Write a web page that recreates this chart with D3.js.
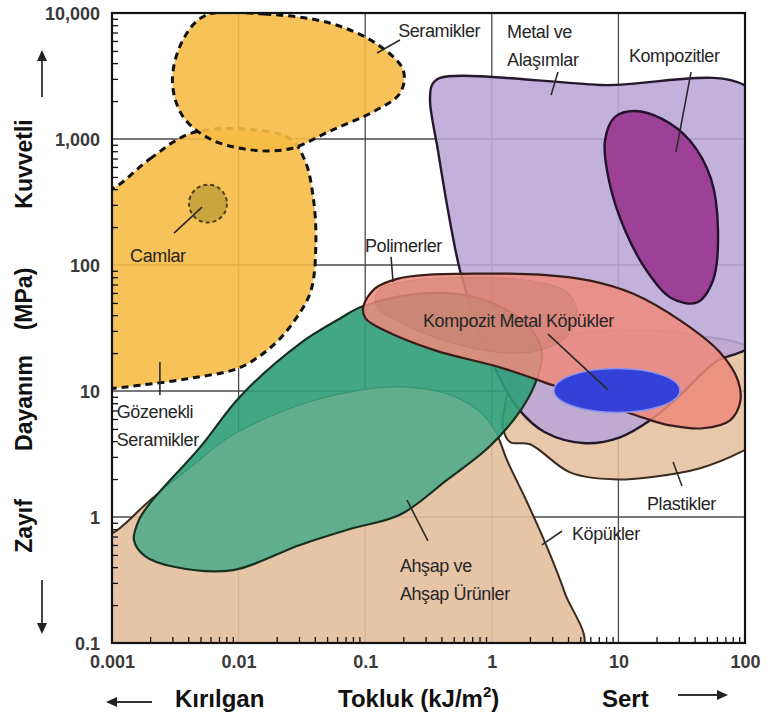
<!DOCTYPE html>
<html><head><meta charset="utf-8">
<script src="https://cdn.jsdelivr.net/npm/d3@7"></script>
<style>
html,body{margin:0;padding:0;background:#fff;}
svg{display:block;font-family:"Liberation Sans",Arial,sans-serif;}
</style></head><body>
<svg id="chart" width="767" height="718"></svg>
<script>
// Axis ticks
const toughnessTicks = [0.001, 0.01, 0.1, 1, 10, 100];
const toughnessTickLabels = ["0.001", "0.01", "0.1", "1", "10", "100"];
const strengthTicks = [0.1, 1, 10, 100, 1000, 10000];
const strengthTickLabels = ["0.1", "1", "10", "100", "1,000", "10,000"];

// Material family outlines: [toughness kJ/m², strength MPa]
const ceramics = [[0.0054, 9500], [0.016, 9800], [0.053, 8300], [0.126, 5600], [0.2, 3500], [0.188, 2300], [0.119, 1670], [0.053, 1160], [0.0255, 836], [0.0123, 821], [0.0059, 1005], [0.0036, 1530], [0.003, 2890], [0.0036, 6000]];
const porousCeramics = [[0.001, 403], [0.002, 697], [0.0041, 1100], [0.0103, 1205], [0.0255, 1005], [0.0335, 671], [0.0387, 355], [0.0408, 156], [0.0373, 62.7], [0.0284, 37.6], [0.0194, 23.8], [0.0103, 15.4], [0.0041, 12.6], [0.00166, 11.1], [0.001, 10.5], [0.0008, 10.5], [0.0008, 403]];
const metalsAlloys = [[0.39, 3055], [7.16, 2685], [120, 2323], [120, 25.2], [57.9, 16.9], [30.6, 9.23], [17.8, 5.85], [10.3, 4.29], [5.45, 3.85], [2.63, 4.70], [1.61, 7.28], [1.10, 14.0], [0.75, 35.0], [0.561, 90.4], [0.451, 270], [0.376, 805], [0.325, 2010], [0.337, 2685]];
const composites = [[13.5, 1670], [22.1, 1445], [36.8, 968], [53.8, 484], [61.2, 188], [55.8, 75.2], [41.8, 50.4], [26.5, 54.2], [17.1, 87.1], [11.3, 188], [8.43, 467], [7.83, 968], [9.40, 1500]];
const polymers = [[0.0962, 45.9], [0.119, 65.0], [0.182, 78.0], [0.325, 83.9], [0.807, 85.5], [2.40, 83.9], [5.97, 75.2], [13.0, 59.3], [32.4, 35.0], [63.5, 20.2], [88.1, 12.1], [91.5, 8.13], [76.2, 5.85], [46.6, 5.06], [25.6, 5.33], [16.2, 6.07], [7.16, 8.13], [3.04, 11.1], [1.16, 15.4], [0.356, 21.0], [0.143, 30.2], [0.101, 37.6]];
const polymersCore = [[0.126, 62.7], [0.226, 75.2], [0.673, 79.4], [2.00, 75.2], [4.00, 60.4], [4.71, 42.0], [4.00, 27.6], [2.40, 21.0], [1.16, 20.2], [0.468, 24.3], [0.188, 35.0], [0.122, 47.6]];
const plastics = [[1.27, 7.69], [1.45, 13.3], [2.00, 20.2], [3.46, 26.6], [10.3, 30.2], [36.8, 28.1], [131, 19.1], [131, 4.06], [94.6, 3.32], [44.2, 2.44], [17.8, 2.07], [9.06, 1.99], [4.15, 2.26], [2.00, 3.78], [1.39, 3.94], [1.22, 5.24]];
const foams = [[0.000804, 0.745], [0.001, 0.745], [0.002, 1.36], [0.00413, 2.44], [0.00904, 4.45], [0.0305, 7.69], [0.0759, 9.75], [0.188, 10.7], [0.468, 9.23], [0.807, 6.76], [1.10, 4.45], [1.32, 2.82], [1.90, 1.31], [2.73, 0.577], [3.78, 0.249], [5.15, 0.088], [0.000804, 0.088]];
const wood = [[0.00149, 0.656], [0.00163, 0.944], [0.002, 1.29], [0.00495, 3.57], [0.0103, 9.06], [0.0305, 23.8], [0.0632, 37.6], [0.0945, 46.8], [0.271, 59.3], [0.807, 54.2], [1.93, 33.1], [2.49, 20.2], [2.28, 12.6], [1.73, 7.28], [0.968, 3.66], [0.443, 1.97], [0.188, 1.04], [0.0759, 0.803], [0.0305, 0.600], [0.00904, 0.379], [0.00315, 0.401], [0.00182, 0.490]];
// Elliptical families: [toughness min, toughness max, strength min, strength max]
const glasses = [0.00406, 0.00809, 217, 434];
const compositeMetalFoams = [3.1, 30.6, 6.76, 15.1];

// Labels: text lines, anchor [toughness, strength], leader from/to
const labelText = [["Seramikler"], ["Metal ve", "Alaşımlar"], ["Kompozitler"], ["Polimerler"], ["Kompozit Metal Köpükler"], ["Camlar"], ["Gözenekli", "Seramikler"], ["Plastikler"], ["Köpükler"], ["Ahşap ve", "Ahşap Ürünler"]];
const labelAnchor = [[0.182, 6450], [1.32, 6340], [12.1, 4080], [0.0995, 127], [0.286, 32.2], [0.00139, 106], [0.00109, 6.11], [16.8, 1.14], [4.30, 0.656], [0.188, 0.366]];
const leaderFrom = [[0.188, 6110], [3.33, 3400], [37.5, 3400], [0.160, 116], [2.78, 28.3], [0.00309, 179], [0.00239, 17.0], [27.0, 2.73], [3.59, 0.774], [0.214, 1.36]];
const leaderTo = [[0.124, 4820], [2.94, 2230], [28.5, 789], [0.166, 73.3], [8.28, 10.2], [0.00514, 288], [0.00239, 9.29], [31.8, 1.76], [2.49, 0.600], [0.313, 0.646]];

const svg = d3.select("#chart");
const M = {left: 112, right: 745, top: 13, bottom: 643};
const x = d3.scaleLog().domain([0.001, 100]).range([M.left, M.right]);
const y = d3.scaleLog().domain([0.1, 10000]).range([M.bottom, M.top]);
const outline = d3.line().x(d => x(d[0])).y(d => y(d[1])).curve(d3.curveCatmullRomClosed.alpha(0.5));

const defs = svg.append("defs");
defs.append("clipPath").attr("id", "plotClip").append("rect")
  .attr("x", M.left).attr("y", M.top).attr("width", M.right - M.left).attr("height", M.bottom - M.top);
defs.append("clipPath").attr("id", "foamClip").append("path").attr("d", outline(foams));

// grid
const grid = svg.append("g").attr("stroke", "#4a4a4a").attr("stroke-width", 1.3);
grid.selectAll("line.v").data(toughnessTicks.slice(1, -1)).join("line")
  .attr("x1", d => x(d)).attr("x2", d => x(d)).attr("y1", M.top).attr("y2", M.bottom);
grid.selectAll("line.h").data(strengthTicks.slice(1, -1)).join("line")
  .attr("y1", d => y(d)).attr("y2", d => y(d)).attr("x1", M.left).attr("x2", M.right);

const plot = svg.append("g").attr("clip-path", "url(#plotClip)");
function region(pts, fill, op, stroke, sw, dash) {
  const p = plot.append("path").attr("d", outline(pts))
    .attr("fill", fill).attr("fill-opacity", op)
    .attr("stroke", stroke).attr("stroke-width", sw).attr("stroke-linejoin", "round");
  if (dash) p.attr("stroke-dasharray", dash);
  return p;
}
function ellipse(b, fill, stroke, sw, dash) {
  const e = plot.append("ellipse")
    .attr("cx", (x(b[0]) + x(b[1])) / 2).attr("cy", (y(b[2]) + y(b[3])) / 2)
    .attr("rx", (x(b[1]) - x(b[0])) / 2).attr("ry", (y(b[2]) - y(b[3])) / 2)
    .attr("fill", fill).attr("stroke", stroke).attr("stroke-width", sw);
  if (dash) e.attr("stroke-dasharray", dash);
  return e;
}

region(foams, "#E3BE9C", 0.9, "#3b2a1e", 2);
region(plastics, "#E3BE9C", 0.85, "#3b2a1e", 2);
region(metalsAlloys, "#B9A6D6", 0.88, "#24182c", 2.4);
region(composites, "#9A3B92", 0.95, "#24122a", 2.4);
// wood and wood products
region(wood, "#2F9D79", 0.9, "none", 0);
plot.append("g").attr("clip-path", "url(#foamClip)").append("path")
  .attr("d", outline(wood)).attr("fill", "#63AF8F").attr("fill-opacity", 0.95);
region(wood, "none", 1, "#17301f", 2.2);
region(polymers, "#EE8A7C", 0.86, "#3a1c18", 2.2);
region(polymersCore, "#B86F62", 0.28, "#8a5a50", 1, null).attr("stroke-opacity", 0.18);
ellipse(compositeMetalFoams, "#3441D8", "#8f93ec", 1.5);
region(porousCeramics, "#F6BB45", 0.9, "#111", 3, "7,5");
region(ceramics, "#F6BB45", 0.9, "#111", 3, "7,5");
ellipse(glasses, "#C9A53D", "#4f3f18", 2, "4,3");

// frame
svg.append("rect").attr("x", M.left).attr("y", M.top)
  .attr("width", M.right - M.left).attr("height", M.bottom - M.top)
  .attr("fill", "none").attr("stroke", "#111").attr("stroke-width", 2.2);

// minor ticks inside the frame
const minorX = x.ticks().filter(d => !toughnessTicks.some(t => Math.abs(t - d) / t < 1e-6));
const minorY = y.ticks().filter(d => !strengthTicks.some(t => Math.abs(t - d) / t < 1e-6));
const bx = svg.append("g").attr("transform", `translate(0,${M.bottom})`)
  .call(d3.axisBottom(x).tickValues(minorX).tickSize(-6).tickFormat(""));
const ly = svg.append("g").attr("transform", `translate(${M.left},0)`)
  .call(d3.axisLeft(y).tickValues(minorY).tickSize(-6).tickFormat(""));
[bx, ly].forEach(g => { g.select(".domain").remove(); g.selectAll("line").attr("stroke", "#111").attr("stroke-width", 1.3); });

// tick labels
const xl = svg.append("g").attr("transform", `translate(0,${M.bottom})`)
  .call(d3.axisBottom(x).tickValues(toughnessTicks).tickSize(0).tickPadding(12)
    .tickFormat((d, i) => toughnessTickLabels[i]));
const yl = svg.append("g").attr("transform", `translate(${M.left},0)`)
  .call(d3.axisLeft(y).tickValues(strengthTicks).tickSize(0).tickPadding(12)
    .tickFormat((d, i) => strengthTickLabels[i]));
[xl, yl].forEach(g => {
  g.select(".domain").remove();
  g.selectAll("text").attr("font-family", "Liberation Sans, Arial, sans-serif")
    .attr("font-size", 18).attr("font-weight", "bold").attr("fill", "#3a3a3a");
});
yl.selectAll("text").attr("dy", "0.38em");

// leaders and labels
const ann = svg.append("g");
ann.selectAll("line").data(leaderFrom).join("line")
  .attr("x1", d => x(d[0])).attr("y1", d => y(d[1]))
  .attr("x2", (d, i) => x(leaderTo[i][0])).attr("y2", (d, i) => y(leaderTo[i][1]))
  .attr("stroke", "#2a2a2a").attr("stroke-width", 1.6);
ann.selectAll("text").data(labelText).join("text")
  .attr("x", (d, i) => x(labelAnchor[i][0])).attr("y", (d, i) => y(labelAnchor[i][1]))
  .attr("font-size", 18).attr("letter-spacing", "-0.4px").attr("fill", "#262626")
  .each(function (lines) {
    const t = d3.select(this);
    const x0 = t.attr("x");
    lines.forEach((s, k) => t.append("tspan").attr("x", x0).attr("dy", k === 0 ? 0 : 28).text(s));
  });

// axis titles
const titles = svg.append("g").attr("font-weight", "bold").attr("fill", "#111");
titles.append("text").attr("x", 175).attr("y", 707).attr("font-size", 24).text("Kırılgan");
const tk = titles.append("text").attr("x", 338).attr("y", 707).attr("font-size", 24);
tk.append("tspan").text("Tokluk (kJ/m");
tk.append("tspan").attr("font-size", 15).attr("dy", -10).text("2");
tk.append("tspan").attr("dy", 10).text(")");
titles.append("text").attr("x", 602).attr("y", 707).attr("font-size", 24).text("Sert");
[["Kuvvetli", 164], ["(MPa)", 299], ["Dayanım", 403], ["Zayıf", 526]].forEach(([s, cy]) => {
  titles.append("text").attr("transform", `translate(32,${cy}) rotate(-90)`)
    .attr("text-anchor", "middle").attr("font-size", 23).text(s);
});

// direction arrows
const arrows = svg.append("g").attr("stroke", "#333").attr("fill", "#222").attr("stroke-width", 1.8);
function arrow(x1, y1, x2, y2) {
  const a = Math.atan2(y2 - y1, x2 - x1), L = 11, W = 5;
  const bx0 = x2 - L * Math.cos(a), by0 = y2 - L * Math.sin(a);
  arrows.append("line").attr("x1", x1).attr("y1", y1).attr("x2", bx0).attr("y2", by0);
  arrows.append("path").attr("stroke", "none").attr("d",
    `M${x2},${y2}L${bx0 - W * Math.sin(a)},${by0 + W * Math.cos(a)}L${bx0 + W * Math.sin(a)},${by0 - W * Math.cos(a)}Z`);
}
arrow(42, 97, 42, 50);
arrow(42, 580, 42, 634);
arrow(152, 702, 106, 702);
arrow(678, 695, 728, 695);
</script>
</body></html>
